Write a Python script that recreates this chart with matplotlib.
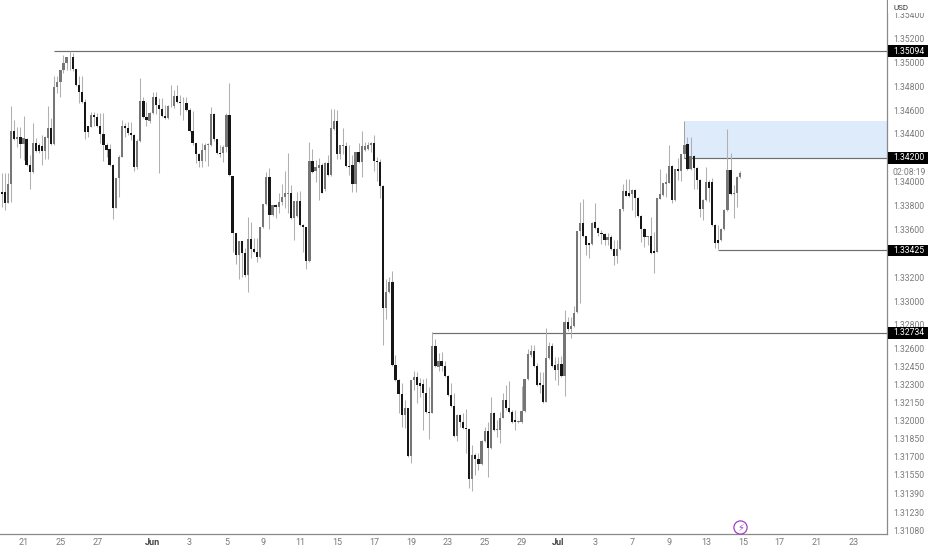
import matplotlib
matplotlib.use("Agg")
import matplotlib.pyplot as plt
import numpy as np

plt.rcParams["font.family"] = ["Roboto", "DejaVu Sans"]

# H4 candles, in 1e-5 price units
opens = [
    133917, 133917, 133824, 133981, 134428, 134355, 134377, 134316, 134358, 134140,
    134081, 134321, 134308, 134302, 134260, 134366, 134450, 134316, 134796, 134838,
    134936, 134997, 135042, 135042, 134941, 134810, 134749, 134665, 134467, 134461,
    134559, 134539, 134467, 134400, 134308, 134271, 134140, 133783, 134028, 134210,
    134467, 134450, 134411, 134388, 134120, 134344, 134676, 134539, 134511, 134573,
    134707, 134643, 134606, 134550, 134536, 134634, 134637, 134721, 134671, 134665,
    134662, 134601, 134428, 134321, 134232, 134176, 134266, 134308, 134308, 134567,
    134355, 134243, 134238, 134294, 134559, 134051, 133568, 133386, 133504, 133406,
    133219, 133517, 133439, 133409, 133372, 133621, 133813, 134042, 133721, 133805,
    133791, 133827, 133869, 133897, 133908, 133693, 133713, 133841, 133637, 133618,
    133339, 134176, 134093, 134112, 134140, 133936, 134160, 134056, 134442, 134509,
    134232, 134302, 134302, 134132, 134140, 133981, 134246, 134168, 134266, 134271,
    134308, 134322, 134174, 134162, 133967, 132939, 133073, 133157, 132464, 132338,
    132221, 132045, 132101, 131702, 132338, 132361, 132310, 132305, 132227, 132073,
    132065, 132623, 132450, 132500, 132456, 132372, 132213, 132123, 131869, 132045,
    131989, 131933, 131928, 131506, 131710, 131674, 131635, 131830, 131911, 131766,
    132065, 131919, 131919, 132023, 132171, 132101, 132068, 132003, 131989, 131989,
    132079, 132344, 132548, 132581, 132456, 132310, 132296, 132157, 132520, 132623,
    132464, 132422, 132472, 132372, 132827, 132763, 132791, 132911, 133589, 133656,
    133545, 133489, 133475, 133662, 133609, 133567, 133561, 133511, 133539, 133436,
    133380, 133433, 133768, 133922, 133902, 133896, 133930, 133860, 133712, 133600,
    133533, 133545, 133419, 133413, 133855, 133888, 133980, 133991, 134134, 133846,
    134103, 134089, 134231, 134312, 134103, 134215, 134111, 134014, 133768, 133846,
    134000, 134000, 133637, 133511, 133511, 133600, 133762, 134097, 133894, 133902,
    134036,
]
highs = [
    134070, 134070, 134070, 134634, 134517, 134455, 134455, 134550, 134363, 134224,
    134495, 134363, 134321, 134391, 134383, 134634, 134534, 134885, 134885, 134936,
    135061, 135042, 135094, 135075, 134941, 134885, 134885, 134690, 134467, 134587,
    134587, 134573, 134573, 134578, 134321, 134316, 134148, 134028, 134224, 134517,
    134495, 134503, 134503, 134397, 134355, 134866, 134707, 134671, 134587, 134754,
    134754, 134698, 134698, 134643, 134643, 134810, 134768, 134810, 134726, 134712,
    134712, 134615, 134595, 134327, 134243, 134321, 134327, 134321, 134629, 134573,
    134361, 134308, 134308, 134578, 134824, 134051, 133568, 133504, 133504, 133442,
    133707, 133660, 133526, 133526, 133623, 133813, 134084, 134112, 133805, 133813,
    133908, 133978, 134093, 134238, 133973, 133841, 133917, 133922, 133646, 133623,
    134335, 134271, 134182, 134196, 134154, 134168, 134224, 134609, 134609, 134601,
    134308, 134447, 134330, 134308, 134224, 134252, 134322, 134428, 134335, 134335,
    134335, 134391, 134204, 134188, 133973, 133182, 133205, 133255, 132548, 132344,
    132310, 132171, 132107, 132338, 132417, 132408, 132352, 132344, 132352, 132282,
    132743, 132679, 132562, 132576, 132500, 132380, 132316, 132227, 132054, 132054,
    132059, 132093, 131933, 131794, 131724, 131724, 131836, 131947, 131989, 132199,
    132073, 132003, 132073, 132227, 132296, 132333, 132087, 132087, 132003, 132288,
    132344, 132595, 132632, 132632, 132478, 132408, 132408, 132771, 132659, 132646,
    132534, 132534, 132539, 132925, 132863, 132863, 132958, 133589, 133832, 133852,
    133545, 133489, 133665, 133818, 133617, 133595, 133567, 133567, 133553, 133511,
    133511, 133768, 133980, 134019, 134019, 133936, 133936, 133868, 133720, 133609,
    133545, 133707, 133581, 133866, 134103, 133992, 134070, 134307, 134139, 134103,
    134195, 134231, 134321, 134377, 134377, 134223, 134120, 134019, 133852, 134120,
    134014, 134028, 133642, 133637, 133609, 133768, 134438, 134237, 133972, 134047,
    134089,
]
lows = [
    133791, 133763, 133819, 133833, 134349, 134294, 134196, 134182, 134132, 133936,
    134076, 134252, 134243, 134140, 134187, 134187, 134308, 134308, 134746, 134712,
    134908, 134936, 134936, 134930, 134802, 134657, 134657, 134355, 134377, 134455,
    134467, 134455, 134321, 134176, 134204, 134132, 133685, 133777, 133875, 134204,
    134377, 134391, 134349, 134093, 134104, 134335, 134531, 134467, 134489, 134567,
    134567, 134076, 134545, 134523, 134523, 134629, 134615, 134657, 134559, 134517,
    134595, 134419, 134308, 134154, 134126, 134126, 134176, 134132, 134299, 134344,
    134232, 134204, 134168, 134252, 134048, 133414, 133311, 133182, 133205, 133205,
    133076, 133358, 133400, 133330, 133358, 133610, 133805, 133601, 133716, 133693,
    133735, 133805, 133777, 133735, 133685, 133512, 133707, 133632, 133414, 133266,
    133330, 134070, 134000, 133847, 133903, 133925, 134048, 134051, 134433, 134188,
    134188, 134232, 134126, 134056, 133917, 133917, 134160, 134042, 134260, 134266,
    134252, 134093, 134009, 133861, 132632, 132847, 133065, 132456, 132333, 132059,
    131942, 131933, 131696, 131640, 132255, 132148, 132199, 131919, 132059, 131844,
    132059, 132450, 132417, 132417, 132361, 132204, 132115, 131864, 131827, 131947,
    131925, 131724, 131431, 131411, 131543, 131585, 131626, 131822, 131523, 131758,
    131914, 131864, 131813, 132017, 132087, 132059, 131981, 131919, 131981, 131981,
    132073, 132338, 132534, 132450, 132288, 132227, 132148, 132151, 132511, 132450,
    132338, 132296, 132366, 132204, 132752, 132687, 132780, 132902, 132986, 133539,
    133386, 133358, 133469, 133600, 133545, 133478, 133469, 133469, 133427, 133302,
    133321, 133427, 133757, 133880, 133874, 133762, 133706, 133706, 133497, 133450,
    133469, 133394, 133238, 133408, 133852, 133880, 133874, 133986, 133824, 133841,
    134014, 134008, 134223, 134097, 134097, 133936, 133936, 133701, 133679, 133841,
    133832, 133631, 133441, 133433, 133506, 133595, 133754, 133888, 133693, 133790,
    134028,
]
closes = [
    133897, 133819, 133981, 134428, 134355, 134377, 134316, 134363, 134140, 134081,
    134321, 134260, 134260, 134260, 134372, 134450, 134316, 134796, 134838, 134936,
    134997, 135042, 135047, 134941, 134810, 134749, 134665, 134419, 134419, 134559,
    134539, 134467, 134400, 134308, 134266, 134140, 133783, 134028, 134210, 134467,
    134450, 134411, 134388, 134120, 134344, 134676, 134539, 134517, 134573, 134707,
    134643, 134606, 134550, 134536, 134637, 134637, 134721, 134665, 134657, 134671,
    134601, 134428, 134321, 134232, 134176, 134266, 134308, 134313, 134567, 134355,
    134243, 134232, 134294, 134559, 134056, 133568, 133386, 133504, 133406, 133219,
    133517, 133439, 133409, 133367, 133621, 133813, 134042, 133721, 133805, 133791,
    133833, 133875, 133903, 133908, 133693, 133841, 133841, 133637, 133618, 133339,
    134176, 134084, 134120, 134140, 133908, 134160, 134056, 134447, 134509, 134232,
    134308, 134308, 134132, 134126, 133981, 134246, 134168, 134302, 134302, 134308,
    134322, 134174, 134162, 133967, 132939, 133079, 133157, 132465, 132338, 132221,
    132045, 132101, 131702, 132338, 132361, 132296, 132288, 132227, 132073, 132059,
    132623, 132456, 132500, 132456, 132372, 132213, 132123, 131869, 132045, 131989,
    131933, 131928, 131506, 131710, 131674, 131635, 131830, 131911, 131766, 132065,
    131919, 131925, 132023, 132171, 132101, 132068, 131989, 131987, 131998, 132079,
    132344, 132556, 132581, 132456, 132296, 132296, 132157, 132520, 132623, 132456,
    132422, 132472, 132372, 132827, 132763, 132791, 132902, 133589, 133656, 133545,
    133469, 133469, 133656, 133609, 133567, 133561, 133511, 133539, 133436, 133380,
    133433, 133768, 133922, 133882, 133882, 133930, 133860, 133712, 133600, 133533,
    133545, 133399, 133399, 133860, 133896, 133986, 134000, 134134, 133846, 134103,
    134089, 134231, 134307, 134103, 134215, 134111, 134014, 133768, 133846, 134000,
    133944, 133637, 133489, 133489, 133600, 133762, 134097, 133896, 133902, 134042,
    134070,
]

# 1.33400 sits behind the 1.33425 tag in the reference, so it is not listed
y_ticks = [1.354, 1.352, 1.350, 1.348, 1.346, 1.344, 1.342, 1.340, 1.338, 1.336,
           1.332, 1.330, 1.328, 1.326, 1.3245, 1.323, 1.3215, 1.320, 1.3185,
           1.317, 1.3155, 1.3139, 1.3123, 1.3108]

day_labels = ["21", "25", "27", "Jun", "3", "5", "9", "11", "15", "17", "19", "23",
              "25", "29", "Jul", "3", "7", "9", "13", "15", "17", "21", "23"]
day_slots = [0, 2, 4, 7, 9, 11, 13, 15, 17, 19, 21, 23, 25, 27, 29, 31, 33, 35, 37,
             39, 41, 43, 45]

# Drawn levels: price and the candle each line starts from
level_prices = [1.35094, 1.34200, 1.33425, 1.32734]
level_starts = [17, 222, 233, 140]

zone_low = 1.34200
zone_high = 1.34512
zone_start = 222

o = np.array(opens) / 1e5
h = np.array(highs) / 1e5
l = np.array(lows) / 1e5
c = np.array(closes) / 1e5
idx = np.arange(len(o))

fig = plt.figure(figsize=(9.32, 5.5), dpi=100)
ax = fig.add_axes([0, 16 / 550, 887 / 932, 534 / 550])

ax.set_xlim(-0.65, 287.9)
ax.set_ylim(1.31049, 1.35522)

# zone and level lines sit under the candles
ax.fill_between([zone_start, 287.9], zone_low, zone_high, color="#ddebfb", lw=0, zorder=1)
ax.vlines(zone_start, zone_low, zone_high, color="#a0a0a0", lw=0.7, zorder=1.5)
for price, start in zip(level_prices, level_starts):
    ax.hlines(price, start, 287.9, color="#6e6e6e", lw=0.85, zorder=1.5)

up = c >= o
bottoms = np.minimum(o, c)
heights = np.maximum(np.abs(c - o), 0.00003)
ax.vlines(idx, l, h, color="#b0b0b0", lw=0.75, zorder=2)
ax.bar(idx[up], heights[up], bottom=bottoms[up], width=0.72, color="#767676", lw=0, zorder=3)
ax.bar(idx[~up], heights[~up], bottom=bottoms[~up], width=0.72, color="#161616", lw=0, zorder=3)

for name in ("top", "left"):
    ax.spines[name].set_visible(False)
for name in ("right", "bottom"):
    ax.spines[name].set_color("#8a8a8a")
    ax.spines[name].set_linewidth(0.9)

ax.yaxis.tick_right()
ax.set_yticks(y_ticks)
ax.set_yticklabels([f"{v:.5f}" for v in y_ticks], fontsize=6.2, color="#7a7a7a")
ax.tick_params(axis="y", length=0, pad=4.5)

ax.set_xticks([7 + 6 * s for s in day_slots])
ax.set_xticklabels(day_labels, fontsize=6.5, color="#7a7a7a")
ax.tick_params(axis="x", length=0, pad=3)
for tick in ax.get_xticklabels():
    if tick.get_text() in ("Jun", "Jul"):
        tick.set_fontweight("bold")
        tick.set_color("#444444")

# black price tags on the scale
trans = ax.get_yaxis_transform()
for price in level_prices:
    ax.add_patch(plt.Rectangle((1.0015, price - 0.00048), 40 / 887, 0.00096, transform=trans,
                               fc="black", ec="none", clip_on=False, zorder=9))
    ax.text(893 / 887, price, f"{price:.5f}", transform=trans, fontsize=6.2, color="white",
            va="center", ha="left", clip_on=False, zorder=10)
ax.text(893 / 887, 1.34077, "02:08:19", transform=trans, fontsize=6.2, color="#7a7a7a",
        va="center", ha="left", clip_on=False, zorder=10)

# USD box covers the top tick
fig.patches.append(plt.Rectangle((888 / 932, 1 - 13 / 550), 44 / 932, 13 / 550,
                                 transform=fig.transFigure, fc="white", ec="none", zorder=9))
fig.text(894 / 932, 1 - 7.5 / 550, "USD", fontsize=5.8, color="#333333", va="center", ha="left", zorder=10)

# purple lightning marker
ax.plot([240.2], [1.31105], marker="o", ms=9.5, mfc="white", mec="#a23fc4", mew=0.9, clip_on=False, zorder=6)
ax.text(240.2, 1.31105, "⚡", fontsize=7, color="#a23fc4", ha="center", va="center", zorder=7,
        family=["DejaVu Sans"])

fig.savefig("out.png", dpi=100)
